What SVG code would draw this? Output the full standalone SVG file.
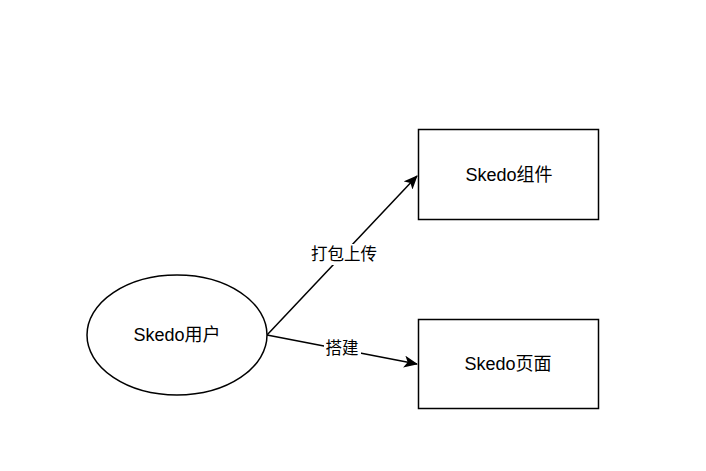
<svg xmlns="http://www.w3.org/2000/svg" width="706" height="471" viewBox="0 0 706 471">
<style>
.shape{fill:#fff;stroke:#000;stroke-width:1.5}
.edge{fill:none;stroke:#000;stroke-width:1.5}
text{font-family:"Liberation Sans","Noto Sans CJK SC",sans-serif;fill:#000;text-anchor:middle;dominant-baseline:central}
.node{font-size:18px}
.lbl{font-size:16.5px}
</style>
<defs>
<marker id="arr" markerWidth="14" markerHeight="12" refX="13" refY="6" orient="auto" markerUnits="userSpaceOnUse">
<path d="M0,0 L14,6 L0,12 L3.5,6 Z" fill="#000"/>
</marker>
</defs>
<rect width="706" height="471" fill="#fff"/>
<g id="edges">
<path class="edge" d="M267,335 L417,176" marker-end="url(#arr)"/>
<path class="edge" d="M267,335 L417,364" marker-end="url(#arr)"/>
<rect x="309" y="244" width="70" height="21" fill="#fff"/>
<text class="lbl" x="344" y="254">打包上传</text>
<rect x="324" y="338" width="37" height="21" fill="#fff"/>
<text class="lbl" x="342" y="348">搭建</text>
</g>
<g id="user">
<ellipse class="shape" cx="177" cy="335" rx="90" ry="60"/>
<text class="node" x="177" y="335">Skedo用户</text>
</g>
<g id="component">
<rect class="shape" x="418.5" y="129.5" width="180" height="90"/>
<text class="node" x="509" y="175">Skedo组件</text>
</g>
<g id="page">
<rect class="shape" x="418.5" y="319.5" width="180" height="89"/>
<text class="node" x="508" y="364">Skedo页面</text>
</g>
</svg>
